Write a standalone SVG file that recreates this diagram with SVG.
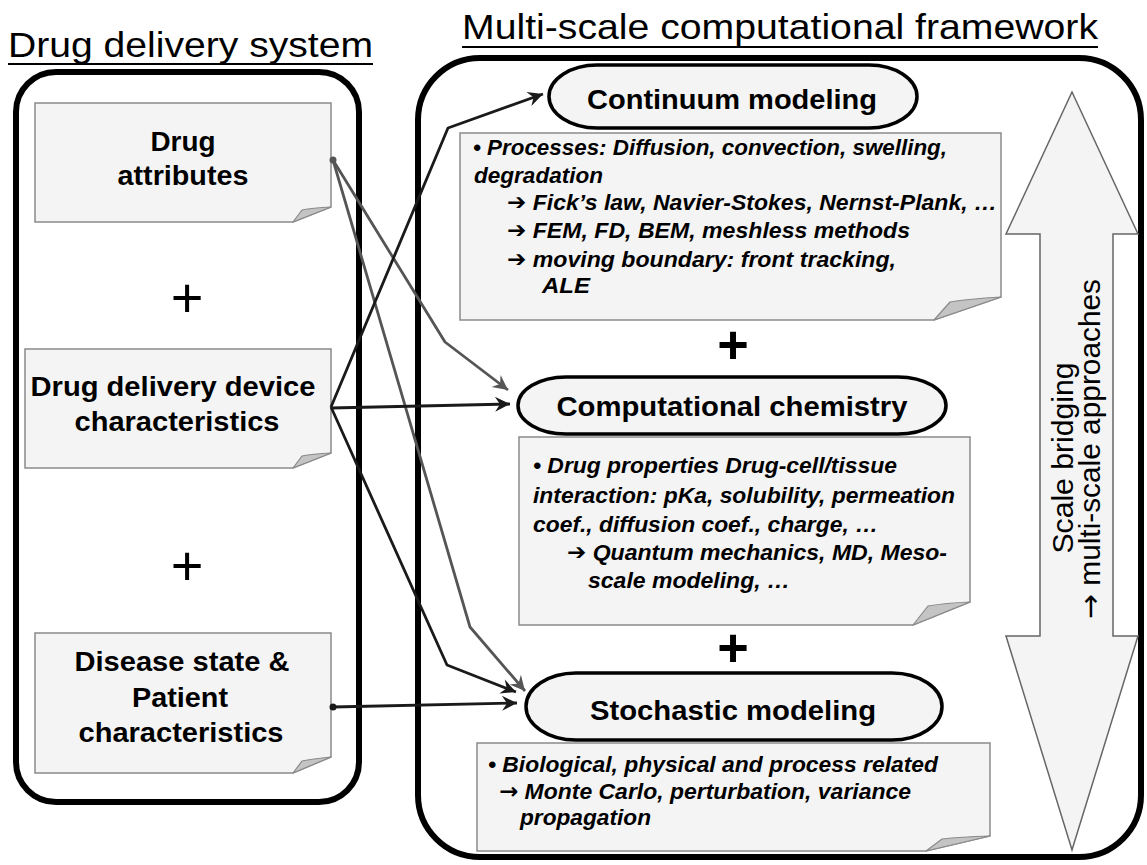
<svg xmlns="http://www.w3.org/2000/svg" width="1147" height="865" viewBox="0 0 1147 865">
<defs>
<style>
.title{font-family:"Liberation Sans",Arial,sans-serif;font-size:35px;fill:#000}
.uline{stroke:#000;stroke-width:2}
.frame{fill:#fff;stroke:#000;stroke-width:6}
.note{fill:#f4f4f4;stroke:#8a8a8a;stroke-width:1.5}
.fold{fill:#c4c4c4;stroke:#8a8a8a;stroke-width:1.2;stroke-linejoin:round}
.lbl{font-family:"Liberation Sans",Arial,sans-serif;font-weight:bold;font-size:27px;text-anchor:middle;fill:#000}
.pill{fill:#f4f4f4;stroke:#000;stroke-width:3.5}
.pl{font-family:"Liberation Sans",Arial,sans-serif;font-size:28px;font-weight:bold;text-anchor:middle;fill:#000}
.nt{font-family:"Liberation Sans","DejaVu Sans",Arial,sans-serif;font-size:22.5px;font-weight:bold;font-style:italic;fill:#000}
.ar{font-family:"DejaVu Sans",sans-serif;font-style:normal;font-weight:bold}
.plus{font-family:"Liberation Sans",Arial,sans-serif;font-size:56px;text-anchor:middle;fill:#000}
.plusb{font-family:"Liberation Sans",Arial,sans-serif;font-size:54px;font-weight:bold;text-anchor:middle;fill:#000}
.big{fill:#f4f4f4;stroke:#666;stroke-width:1.5;stroke-linejoin:miter}
.rot{font-family:"Liberation Sans",Arial,sans-serif;font-size:29px;text-anchor:middle;fill:#000}
.cb{fill:none;stroke:#1a1a1a;stroke-width:2.8;stroke-linejoin:round}
.cg{fill:none;stroke:#555;stroke-width:2.8;stroke-linejoin:round}
</style>
<marker id="ab" markerUnits="userSpaceOnUse" markerWidth="18" markerHeight="16" viewBox="-16 -8 17 16" refX="0" refY="0" orient="auto"><path d="M0,0 L-15,-7.5 L-10,0 L-15,7.5 Z" fill="#1a1a1a"/></marker>
<marker id="ag" markerUnits="userSpaceOnUse" markerWidth="18" markerHeight="16" viewBox="-16 -8 17 16" refX="0" refY="0" orient="auto"><path d="M0,0 L-15,-7.5 L-10,0 L-15,7.5 Z" fill="#555"/></marker>
</defs>
<rect width="1147" height="865" fill="#fff"/>

<g id="title-left">
<text class="title" x="8" y="57" textLength="365" lengthAdjust="spacingAndGlyphs">Drug delivery system</text>
<line class="uline" x1="8" y1="64" x2="373" y2="64"/>
</g>
<g id="title-right">
<text class="title" x="462" y="39" textLength="636" lengthAdjust="spacingAndGlyphs">Multi-scale computational framework</text>
<line class="uline" x1="462" y1="47" x2="1098" y2="47"/>
</g>

<g id="frame-left"><rect class="frame" x="16" y="72" width="343" height="730" rx="40" ry="40"/></g>
<g id="frame-right"><rect class="frame" x="418" y="58" width="723" height="799" rx="62" ry="62"/></g>

<g id="drug-attributes">
<path class="note" d="M35,103 H331 V207 L293,222 H35 Z"/>
<path class="fold" d="M293,222 L302,210 Q312,208 331,207 Z"/>
<text class="lbl" x="183" y="151" textLength="65" lengthAdjust="spacingAndGlyphs">Drug</text>
<text class="lbl" x="183" y="185" textLength="131" lengthAdjust="spacingAndGlyphs">attributes</text>
</g>
<g id="plus-left-1"><text class="plus" x="187" y="317">+</text></g>
<g id="device">
<path class="note" d="M25,349 H331 V453 L293,468 H25 Z"/>
<path class="fold" d="M293,468 L302,456 Q312,454 331,453 Z"/>
<text class="lbl" x="173" y="396" textLength="285" lengthAdjust="spacingAndGlyphs">Drug delivery device</text>
<text class="lbl" x="177" y="431" textLength="205" lengthAdjust="spacingAndGlyphs">characteristics</text>
</g>
<g id="plus-left-2"><text class="plus" x="187" y="585">+</text></g>
<g id="disease">
<path class="note" d="M35,633 H331 V757 L293,773 H35 Z"/>
<path class="fold" d="M293,773 L302,761 Q312,759 331,757 Z"/>
<text class="lbl" x="182" y="671" textLength="215" lengthAdjust="spacingAndGlyphs">Disease state &amp;</text>
<text class="lbl" x="180" y="707" textLength="96" lengthAdjust="spacingAndGlyphs">Patient</text>
<text class="lbl" x="181" y="742" textLength="205" lengthAdjust="spacingAndGlyphs">characteristics</text>
</g>

<g id="scale-arrow">
<path class="big" d="M1072,92 L1138,234 L1113,234 L1113,636 L1138,636 L1072,850 L1006,636 L1040,636 L1040,234 L1006,234 Z"/>
<text class="rot" transform="translate(1073,458) rotate(-90)" textLength="191" lengthAdjust="spacingAndGlyphs">Scale bridging</text>
<text class="rot" transform="translate(1100,449) rotate(-90)" textLength="340" lengthAdjust="spacingAndGlyphs"><tspan font-family="DejaVu Sans">→</tspan> multi-scale approaches</text>
</g>

<g id="continuum">
<rect class="pill" x="549" y="65" width="368" height="63" rx="48" ry="31.5"/>
<text class="pl" x="732" y="109" textLength="290" lengthAdjust="spacingAndGlyphs">Continuum modeling</text>
</g>
<g id="continuum-note">
<path class="note" d="M460,133 H1001 V297 L934,320 H460 Z"/>
<path class="fold" d="M934,320 L950,302 Q968,299 1001,297 Z"/>
<text class="nt" x="473" y="155" textLength="474" lengthAdjust="spacingAndGlyphs">• Processes: Diffusion, convection, swelling,</text>
<text class="nt" x="474" y="183" textLength="129" lengthAdjust="spacingAndGlyphs">degradation</text>
<text class="nt" x="507" y="210" textLength="490" lengthAdjust="spacingAndGlyphs"><tspan class="ar">➔</tspan> Fick’s law, Navier-Stokes, Nernst-Plank, …</text>
<text class="nt" x="507" y="238" textLength="403" lengthAdjust="spacingAndGlyphs"><tspan class="ar">➔</tspan> FEM, FD, BEM, meshless methods</text>
<text class="nt" x="507" y="267" textLength="389" lengthAdjust="spacingAndGlyphs"><tspan class="ar">➔</tspan> moving boundary: front tracking,</text>
<text class="nt" x="542" y="293" textLength="48" lengthAdjust="spacingAndGlyphs">ALE</text>
</g>
<g id="plus-right-1"><text class="plusb" x="733" y="363">+</text></g>
<g id="chemistry">
<rect class="pill" x="518" y="377" width="428" height="57" rx="48" ry="28.5"/>
<text class="pl" x="732" y="416" textLength="351" lengthAdjust="spacingAndGlyphs">Computational chemistry</text>
</g>
<g id="chemistry-note">
<path class="note" d="M519,437 H970 V602 L913,625 H519 Z"/>
<path class="fold" d="M913,625 L928,606 Q945,603 970,602 Z"/>
<text class="nt" x="533" y="473" textLength="364" lengthAdjust="spacingAndGlyphs">• Drug properties Drug-cell/tissue</text>
<text class="nt" x="533" y="503" textLength="422" lengthAdjust="spacingAndGlyphs">interaction: pKa, solubility, permeation</text>
<text class="nt" x="533" y="532" textLength="345" lengthAdjust="spacingAndGlyphs">coef., diffusion coef., charge, …</text>
<text class="nt" x="567" y="560" textLength="380" lengthAdjust="spacingAndGlyphs"><tspan class="ar">➔</tspan> Quantum mechanics, MD, Meso-</text>
<text class="nt" x="588" y="588" textLength="202" lengthAdjust="spacingAndGlyphs">scale modeling, …</text>
</g>
<g id="plus-right-2"><text class="plusb" x="733" y="666">+</text></g>
<g id="stochastic">
<rect class="pill" x="526" y="673" width="416" height="67" rx="50" ry="33.5"/>
<text class="pl" x="733" y="720" textLength="286" lengthAdjust="spacingAndGlyphs">Stochastic modeling</text>
</g>
<g id="stochastic-note">
<path class="note" d="M477,743 H990 V836 L926,851 H477 Z"/>
<path class="fold" d="M926,851 L942,839 Q960,837 990,836 Z"/>
<text class="nt" x="488" y="772" textLength="450" lengthAdjust="spacingAndGlyphs">• Biological, physical and process related</text>
<text class="nt" x="499" y="799" textLength="412" lengthAdjust="spacingAndGlyphs"><tspan font-family="DejaVu Sans">→</tspan> Monte Carlo, perturbation, variance</text>
<text class="nt" x="520" y="825" textLength="131" lengthAdjust="spacingAndGlyphs">propagation</text>
</g>

<g id="connectors">
<path class="cg" d="M333,160 L445,342 L508,390" marker-end="url(#ag)"/>
<path class="cg" d="M333,160 L470,627 L525,691" marker-end="url(#ag)"/>
<circle cx="333" cy="160" r="3.5" fill="#555"/>
<path class="cb" d="M331,407 L448,128 L543,94" marker-end="url(#ab)"/>
<path class="cb" d="M331,408 L510,404" marker-end="url(#ab)"/>
<path class="cb" d="M331,407 L447,665 L516,692" marker-end="url(#ab)"/>
<path class="cb" d="M333,707 L517,703" marker-end="url(#ab)"/>
<circle cx="333" cy="707" r="3.5" fill="#1a1a1a"/>
</g>
</svg>
